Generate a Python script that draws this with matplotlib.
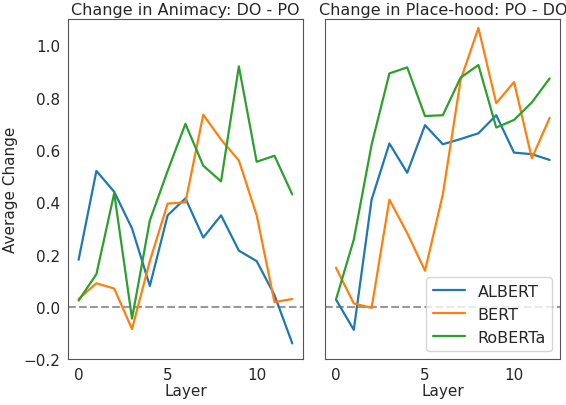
import numpy as np
import matplotlib.pyplot as plt
import seaborn as sns

sns.set_style("white")

layers = np.arange(13)

# Change in Animacy: DO - PO
animacy_albert = [0.18, 0.52, 0.44, 0.30, 0.08, 0.35, 0.415, 0.265, 0.35, 0.215, 0.175, 0.045, -0.14]
animacy_bert = [0.03, 0.09, 0.07, -0.085, 0.175, 0.395, 0.40, 0.735, 0.64, 0.56, 0.35, 0.018, 0.03]
animacy_roberta = [0.024, 0.125, 0.435, -0.045, 0.33, 0.52, 0.70, 0.54, 0.48, 0.92, 0.555, 0.578, 0.43]

# Change in Place-hood: PO - DO
place_albert = [0.028, -0.088, 0.41, 0.625, 0.513, 0.695, 0.622, 0.642, 0.664, 0.733, 0.59, 0.584, 0.562]
place_bert = [0.15, 0.013, -0.004, 0.41, 0.282, 0.138, 0.43, 0.868, 1.067, 0.779, 0.86, 0.568, 0.723]
place_roberta = [0.028, 0.257, 0.62, 0.893, 0.916, 0.73, 0.733, 0.877, 0.925, 0.686, 0.715, 0.782, 0.874]

models = ["ALBERT", "BERT", "RoBERTa"]
colors = ["#1f77b4", "#ff7f0e", "#2ca02c"]

panels = [
    ("Change in Animacy: DO - PO", [animacy_albert, animacy_bert, animacy_roberta]),
    ("Change in Place-hood: PO - DO", [place_albert, place_bert, place_roberta]),
]

fig, axes = plt.subplots(1, 2, figsize=(5.66, 4.06), dpi=100, sharey=True)
fig.subplots_adjust(left=0.12, right=0.99, bottom=0.113, top=0.95, wspace=0.095)

for ax, (title, series) in zip(axes, panels):
    for name, vals, c in zip(models, series, colors):
        ax.plot(layers, vals, color=c, lw=1.6, label=name)
    ax.axhline(0, color="#999999", ls="--", lw=1.5, zorder=0)
    ax.set_title(title, fontsize=11.5, pad=4)
    ax.set_xlabel("Layer", fontsize=11, labelpad=1)
    ax.set_xticks([0, 5, 10])
    ax.tick_params(labelsize=11, pad=2)
    for s in ax.spines.values():
        s.set_edgecolor("#555555")

axes[0].set_ylim(-0.2, 1.1)
axes[0].set_yticks([-0.2, 0.0, 0.2, 0.4, 0.6, 0.8, 1.0])
axes[0].set_ylabel("Average Change", fontsize=11)
axes[1].legend(loc="lower right", fontsize=11.5, frameon=True)

fig.savefig("out.png", dpi=100)
